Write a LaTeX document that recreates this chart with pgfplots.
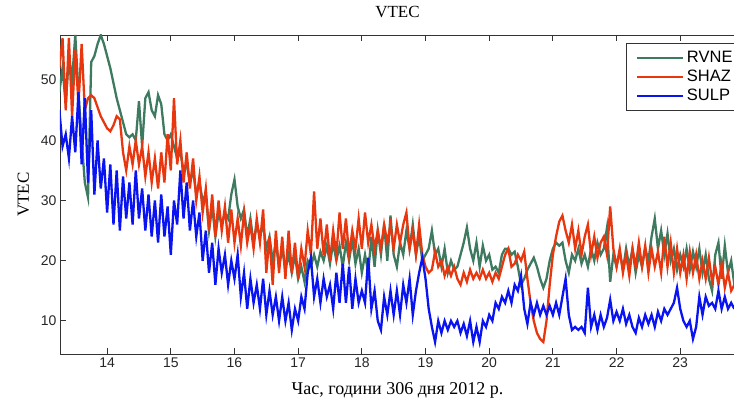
\documentclass[border=0pt]{standalone}
\usepackage{fontspec}
\setmainfont{Liberation Serif}
\newfontfamily\arialf{Liberation Sans}
\usepackage{pgfplots}
\usepackage{pgfplotstable}
\pgfplotsset{compat=1.18}
\definecolor{cRVNE}{RGB}{62,122,95}
\definecolor{cSHAZ}{RGB}{232,55,15}
\definecolor{cSULP}{RGB}{10,20,240}

% t = hour of day 306, 2012; columns: RVNE, SHAZ, SULP
\pgfplotstableread{
t     rvne  shaz  sulp
13.25 48    52    45
13.30 52    57    39
13.35 46    45    41
13.40 54    57    37
13.45 50    44    44
13.50 57.5  55    38
13.55 48    46    48
13.60 40    56    36
13.65 33    45    47
13.70 30.5  47    33
13.75 53    47.5  45
13.80 54    47    31
13.85 56    45.5  40
13.90 57.5  44    32
13.95 56    43    37
14.00 54    42    28
14.05 52    41.5  36
14.10 49.5  42.5  26
14.15 47    44    35
14.20 45    43.5  25
14.25 43    38    34
14.30 41    35    27
14.35 40.5  39    33
14.40 41    36    26
14.45 40    40    35
14.50 46.5  36    27
14.55 39    39    32
14.60 47    34    25
14.65 48    38    31
14.70 45    33    24
14.75 44    37    30
14.80 47.5  32    23
14.85 46    38    31
14.90 41    33    24
14.95 40    41    29
15.00 41    35    21
15.05 39    47    30
15.10 37    36    26
15.15 38    40    35
15.20 35    33    27
15.25 36    38    33
15.30 33    32    25
15.35 35    37    30
15.40 31    30    24
15.45 33    34    28
15.50 30    28    20
15.55 31    32    25
15.60 25    25    18
15.65 29    31    23
15.70 24    24    16
15.75 28    30    22
15.80 26    25    18
15.85 28    29    21
15.90 27    23    16
15.95 31    28.5  20
16.00 33.5  23    17
16.05 29    27    21
16.10 27    22.5  14
16.15 28.5  28    18
16.20 24    23    12
16.25 27    26    17
16.30 23    22    13
16.35 26    27    16
16.40 24    23    12
16.45 26    28.5  17
16.50 22    18    11
16.55 24    24    15
16.60 20    16    11
16.65 23    25    14
16.70 19    18    10
16.75 22    24    14
16.80 18.5  17    10
16.85 21    25    13
16.90 18    18    8.5
16.95 21    23    12
17.00 17    17    10
17.05 19    22    14
17.10 16.5  19    12
17.15 20    25    18
17.20 19    21    20.5
17.25 21    31.5  14
17.30 19    22    17
17.35 21.5  27    13
17.40 20    21    17
17.45 22.5  26    14
17.50 19.5  20    16
17.55 23    25    12
17.60 20    21    18
17.65 22.5  28    13
17.70 19    22    19.5
17.75 23    27    13
17.80 20    21    19
17.85 23.5  25    12
17.90 19.5  22    17
17.95 22    27    13
18.00 18    22    15
18.05 21    28    13
18.10 18    23    20.5
18.15 24    26    12
18.20 19    22    15
18.25 25    25    10
18.30 21    22    8.5
18.35 26    26    14
18.40 20    23    11
18.45 27.5  26    15
18.50 21    22    11
18.55 19    26    15
18.60 23    23    11
18.65 21    26    16
18.70 25    28    13
18.75 22    22    17
18.80 26    25    11
18.85 21    21    15
18.90 24    26    18
18.95 20    21    20.5
19.00 21    19    17
19.05 22    18    12
19.10 25    18.5  9
19.15 21    21.5  6.5
19.20 22    19    10
19.25 19    20    8
19.30 22    17.5  10
19.35 18    19    8.5
19.40 20    17.5  10
19.45 18.5  19    9
19.50 19    17    10
19.55 21    16    8
19.60 23    18    9.5
19.65 25.5  16.5  7.5
19.70 22    18.5  10
19.75 20    17    6.5
19.80 23    18    9
19.85 19    17    6.5
19.90 22.5  18.5  10
19.95 20    17    9
20.00 21    18    11
20.05 18.5  16.5  10
20.10 19    18    13
20.15 18    17    12
20.20 21    19    14
20.25 22    21    13
20.30 22    22    15
20.35 21    19    13
20.40 21.5  19.5  16
20.45 19    21    15
20.50 16    20    17.5
20.55 17    21.5  12
20.60 18.5  17    9.5
20.65 19.5  13    13
20.70 20.5  10    11
20.75 19    8     13
20.80 17    7     11
20.85 15.5  6.5   12.5
20.90 17    10    11
20.95 20    16    12.5
21.00 22    21    11
21.05 23    24    13
21.10 22.5  26.5  11
21.15 23    27.5  14
21.20 20    25    17
21.25 18    23    11
21.30 21    26    8.5
21.35 20    22    9
21.40 22    25    8.5
21.45 19.5  21    9
21.50 21    24    8
21.55 19    26    15.5
21.60 22    21    9
21.65 20    24    11
21.70 23    20.5  8.5
21.75 21    23    11
21.80 22    24    9
21.85 25.5  21    10.5
21.90 16.5  29    13.5
21.95 21    22    10
22.00 19    19    11.5
22.05 21.5  22    10
22.10 18.5  18    12
22.15 22    21    9.5
22.20 19    17.5  11
22.25 22    22    9
22.30 18    19    8
22.35 21    23    10.5
22.40 19    19    9
22.45 22    22.5  11
22.50 20    18    9.5
22.55 24    22    11
22.60 27    19    9
22.65 22    21.5  11.5
22.70 25    18    10
22.75 21    24    12
22.80 24.5  19    11
22.85 20    23    12
22.90 22    18    13
22.95 18.5  22    15.5
23.00 21    18    12
23.05 19    21    10
23.10 22    17    9
23.15 18.5  21.5  10
23.20 21.5  18    7
23.25 19    21    9
23.30 22    17    14
23.35 18    20    11
23.40 21    17    14
23.45 17    20.5  12.5
23.50 15    16.5  13
23.55 21    19    12
23.60 23    16    15
23.65 17    19.5  12
23.70 22.5  15.5  14
23.75 18    18    12
23.80 20    15    13
23.85 16    16    12
}\vtec

\begin{document}
\begin{tikzpicture}
\useasboundingbox (-60pt,-49pt) rectangle (674pt,354pt);
\begin{axis}[
    at={(0pt,0pt)}, anchor=south west,
    scale only axis, width=675pt, height=319pt,
    xmin=13.26, xmax=23.86, ymin=4.5, ymax=57.5,
    xtick={14,15,...,23}, ytick={10,20,...,50},
    xtick pos=both, ytick pos=left, tick align=inside,
    major tick length=6pt,
    axis line style={black!80, line width=0.8pt},
    tick style={black!80, line width=0.8pt},
    /pgf/number format/assume math mode=true,
    ticklabel style={font=\arialf\fontsize{14}{14}\selectfont, text=black!85},
    title={VTEC},
    title style={font=\fontsize{17}{17}\selectfont, at={(axis description cs:0.5,1)},
        anchor=base, yshift=11pt, inner sep=0pt},
    xlabel={Час, години 306 дня 2012 р.},
    xlabel style={font=\fontsize{18}{18}\selectfont, at={(axis description cs:0.5,0)},
        anchor=base, yshift=-41pt, inner sep=0pt},
    ylabel={VTEC},
    ylabel style={font=\fontsize{17}{17}\selectfont, at={(axis description cs:-0.046,0.5)},
        anchor=base, inner sep=0pt},
    legend style={at={(axis description cs:0.8385,0.975)}, anchor=north west,
        font=\arialf\fontsize{16.5}{16.5}\selectfont, draw=black!80, line width=0.8pt,
        row sep=0pt, inner xsep=10pt, inner ysep=5pt, nodes={inner sep=3pt}},
    legend cell align=left,
    legend image code/.code={\draw[#1, line width=1.6pt] (0pt,0pt) -- (46pt,0pt);},
]
\addplot[cRVNE, line width=2.3pt] table[x=t, y=rvne] {\vtec};
\addplot[cSHAZ, line width=2.3pt] table[x=t, y=shaz] {\vtec};
\addplot[cSULP, line width=2.3pt] table[x=t, y=sulp] {\vtec};
\legend{RVNE\hspace*{20pt}, SHAZ\hspace*{20pt}, SULP\hspace*{20pt}}
\end{axis}
\end{tikzpicture}
\end{document}
